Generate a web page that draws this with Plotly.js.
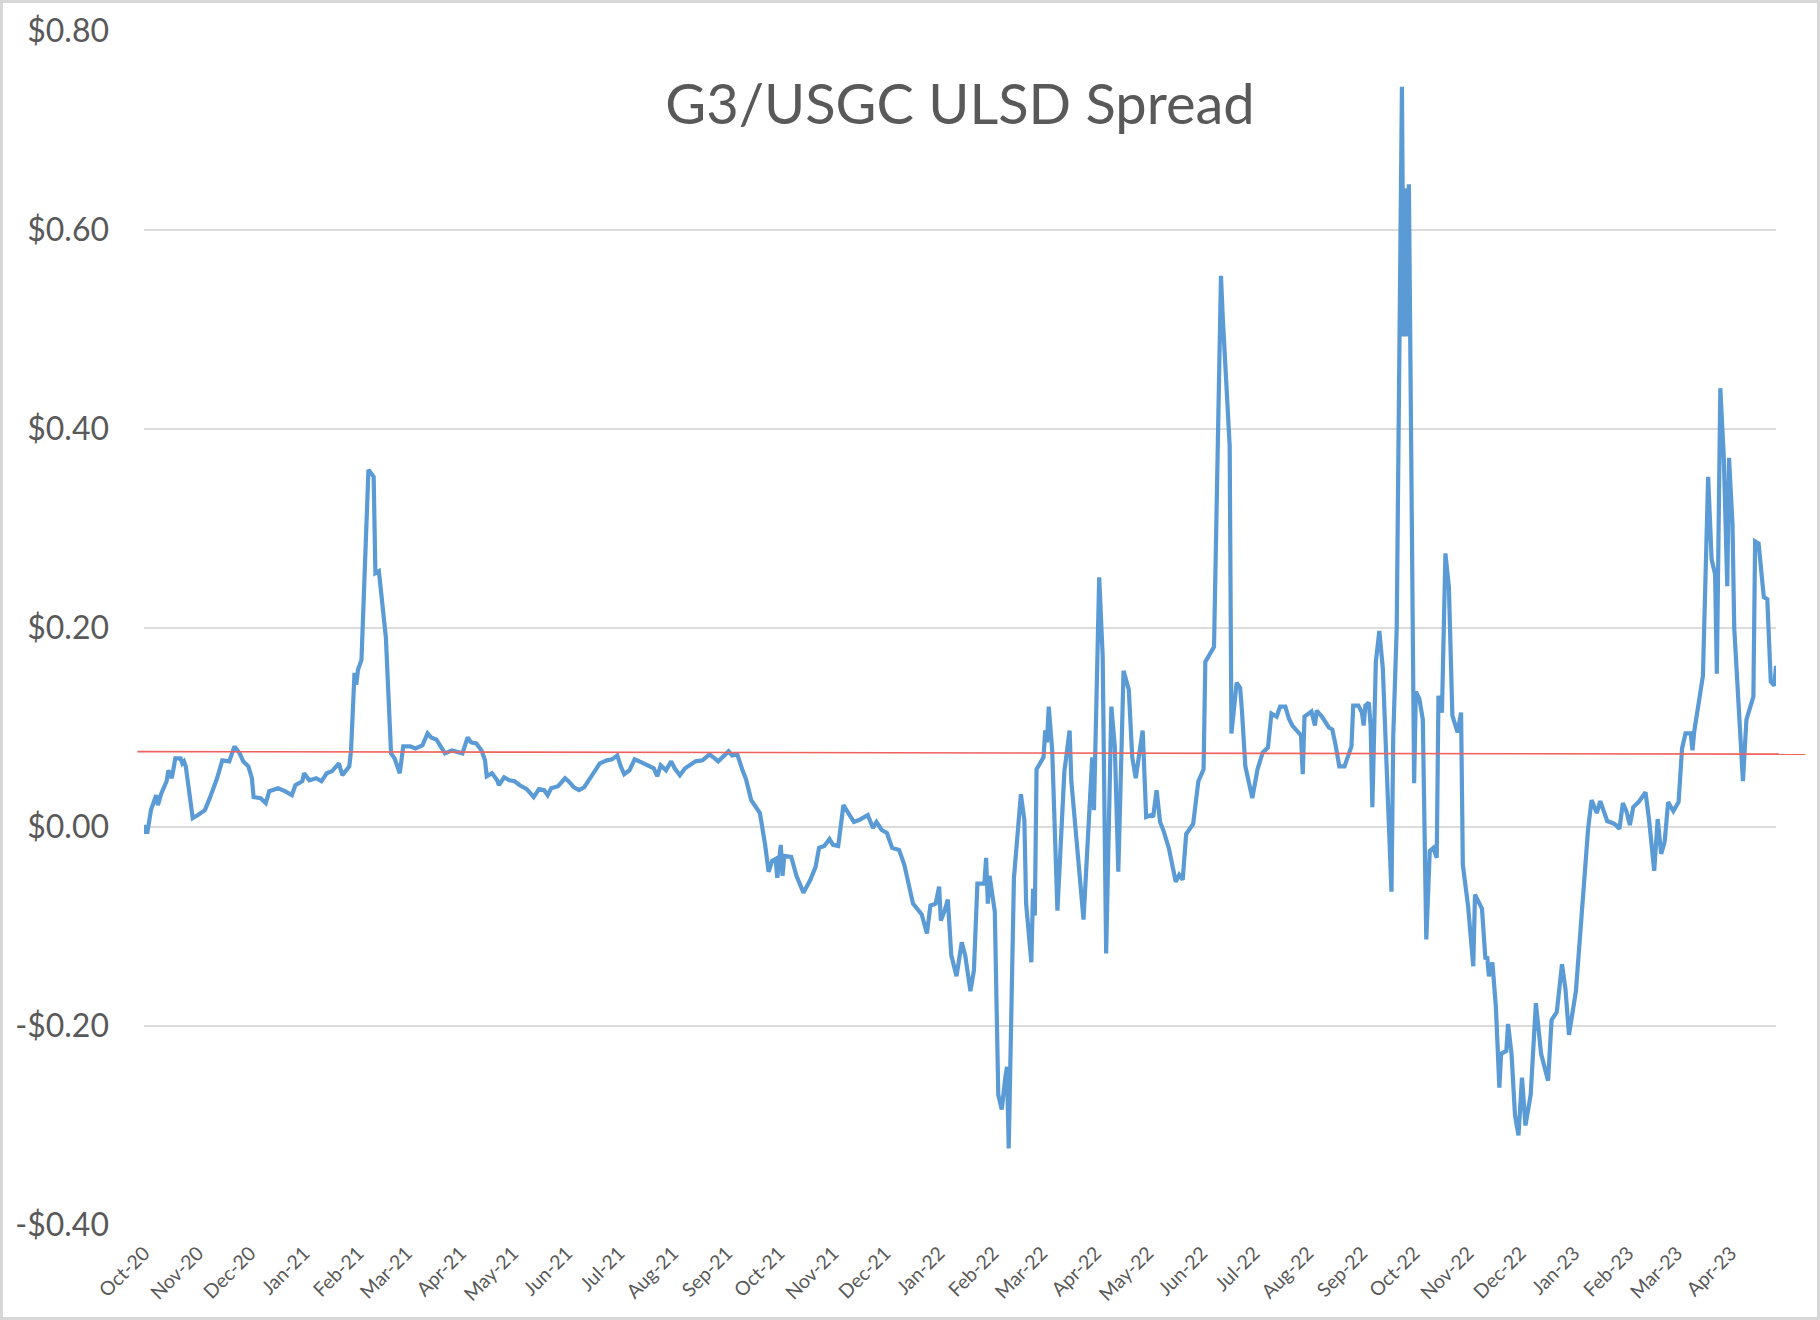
<!DOCTYPE html>
<html>
<head>
<meta charset="utf-8">
<script src="https://cdn.plot.ly/plotly-3.0.1.min.js"></script>
<style>
  html, body { margin: 0; padding: 0; background: #ffffff; }
  #wrap { position: relative; width: 1820px; height: 1320px; }
  #chart { position: absolute; left: 0; top: 0; width: 1820px; height: 1320px; }
  #frame { position: absolute; left: 0; top: 0; width: 1820px; height: 1320px; box-sizing: border-box; border: 3px solid #d6d6d6; pointer-events: none; }
</style>
</head>
<body>
<div id="wrap"><div id="chart"></div><div id="frame"></div></div>
<script>
// ---- Data ----
const chartTitle = 'G3/USGC ULSD Spread';

const dates = [
'2020-10-01','2020-10-02','2020-10-03','2020-10-05','2020-10-08','2020-10-09','2020-10-11','2020-10-14','2020-10-15','2020-10-17',
'2020-10-19','2020-10-22','2020-10-23','2020-10-24','2020-10-25','2020-10-29','2020-11-01','2020-11-05','2020-11-08','2020-11-12',
'2020-11-15','2020-11-19','2020-11-22','2020-11-25','2020-11-27','2020-11-30','2020-12-02','2020-12-03','2020-12-07','2020-12-10',
'2020-12-12','2020-12-17','2020-12-21','2020-12-25','2020-12-27','2020-12-31','2021-01-01','2021-01-04','2021-01-08','2021-01-11',
'2021-01-14','2021-01-17','2021-01-21','2021-01-23','2021-01-27','2021-01-28','2021-01-30','2021-01-31','2021-02-01','2021-02-03',
'2021-02-07','2021-02-10','2021-02-11','2021-02-13','2021-02-17','2021-02-20','2021-02-22','2021-02-25','2021-02-27','2021-03-03',
'2021-03-06','2021-03-10','2021-03-13','2021-03-15','2021-03-18','2021-03-23','2021-03-27','2021-03-30','2021-04-02','2021-04-05',
'2021-04-07','2021-04-10','2021-04-13','2021-04-15','2021-04-16','2021-04-19','2021-04-22','2021-04-23','2021-04-26','2021-04-29',
'2021-05-02','2021-05-05','2021-05-09','2021-05-13','2021-05-16','2021-05-19','2021-05-21','2021-05-23','2021-05-27','2021-05-31',
'2021-06-02','2021-06-05','2021-06-08','2021-06-11','2021-06-14','2021-06-17','2021-06-20','2021-06-24','2021-06-27','2021-06-30',
'2021-07-02','2021-07-04','2021-07-07','2021-07-10','2021-07-14','2021-07-18','2021-07-21','2021-07-23','2021-07-25','2021-07-28',
'2021-07-31','2021-08-02','2021-08-05','2021-08-08','2021-08-11','2021-08-14','2021-08-18','2021-08-22','2021-08-25','2021-08-27',
'2021-08-30','2021-09-02','2021-09-04','2021-09-07','2021-09-10','2021-09-12','2021-09-15','2021-09-18','2021-09-20','2021-09-23',
'2021-09-25','2021-09-27','2021-09-29','2021-09-30','2021-10-01','2021-10-02','2021-10-03','2021-10-04','2021-10-08','2021-10-11',
'2021-10-15','2021-10-19','2021-10-22','2021-10-24','2021-10-27','2021-10-30','2021-11-01','2021-11-04','2021-11-07','2021-11-10',
'2021-11-13','2021-11-16','2021-11-21','2021-11-24','2021-11-26','2021-11-29','2021-12-02','2021-12-05','2021-12-09','2021-12-12',
'2021-12-17','2021-12-22','2021-12-25','2021-12-27','2021-12-30','2022-01-01','2022-01-02','2022-01-04','2022-01-06','2022-01-08',
'2022-01-11','2022-01-14','2022-01-16','2022-01-19','2022-01-21','2022-01-23','2022-01-27','2022-01-28','2022-01-29','2022-01-30',
'2022-02-02','2022-02-04','2022-02-06','2022-02-08','2022-02-09','2022-02-10','2022-02-13','2022-02-17','2022-02-19','2022-02-20',
'2022-02-23','2022-02-24','2022-02-25','2022-02-26','2022-03-02','2022-03-03','2022-03-04','2022-03-05','2022-03-07','2022-03-10',
'2022-03-12','2022-03-14','2022-03-17','2022-03-18','2022-03-25','2022-03-28','2022-03-30','2022-03-31','2022-04-03','2022-04-05',
'2022-04-07','2022-04-10','2022-04-12','2022-04-14','2022-04-17','2022-04-20','2022-04-22','2022-04-24','2022-04-28','2022-04-30',
'2022-05-03','2022-05-04','2022-05-06','2022-05-08','2022-05-10','2022-05-13','2022-05-15','2022-05-17','2022-05-19','2022-05-21',
'2022-05-23','2022-05-27','2022-05-30','2022-06-02','2022-06-03','2022-06-08','2022-06-12','2022-06-13','2022-06-17','2022-06-18',
'2022-06-21','2022-06-23','2022-06-24','2022-06-26','2022-06-30','2022-07-03','2022-07-06','2022-07-09','2022-07-11','2022-07-14',
'2022-07-16','2022-07-19','2022-07-21','2022-07-23','2022-07-27','2022-07-28','2022-07-29','2022-07-30','2022-08-03','2022-08-05',
'2022-08-06','2022-08-09','2022-08-13','2022-08-15','2022-08-17','2022-08-19','2022-08-22','2022-08-24','2022-08-26','2022-08-27',
'2022-08-30','2022-09-01','2022-09-02','2022-09-03','2022-09-05','2022-09-06','2022-09-07','2022-09-09','2022-09-11','2022-09-13',
'2022-09-16','2022-09-18','2022-09-19','2022-09-21','2022-09-24','2022-09-25','2022-09-26','2022-09-27','2022-09-28','2022-10-01',
'2022-10-02','2022-10-04','2022-10-06','2022-10-08','2022-10-10','2022-10-12','2022-10-14','2022-10-15','2022-10-17','2022-10-19',
'2022-10-21','2022-10-23','2022-10-26','2022-10-28','2022-10-29','2022-11-01','2022-11-04','2022-11-05','2022-11-09','2022-11-11',
'2022-11-12','2022-11-13','2022-11-15','2022-11-17','2022-11-19','2022-11-20','2022-11-23','2022-11-24','2022-11-26','2022-11-28',
'2022-11-30','2022-12-02','2022-12-04','2022-12-07','2022-12-10','2022-12-13','2022-12-17','2022-12-19','2022-12-22','2022-12-25',
'2022-12-27','2022-12-29','2023-01-02','2023-01-05','2023-01-07','2023-01-09','2023-01-11','2023-01-14','2023-01-16','2023-01-20',
'2023-01-23','2023-01-25','2023-01-27','2023-01-29','2023-01-31','2023-02-02','2023-02-04','2023-02-07','2023-02-11','2023-02-13',
'2023-02-16','2023-02-18','2023-02-20','2023-02-22','2023-02-24','2023-02-27','2023-03-02','2023-03-04','2023-03-06','2023-03-09',
'2023-03-10','2023-03-11','2023-03-16','2023-03-19','2023-03-21','2023-03-23','2023-03-24','2023-03-26','2023-03-28','2023-03-30',
'2023-03-31','2023-04-02','2023-04-03','2023-04-08','2023-04-10','2023-04-14','2023-04-15','2023-04-17','2023-04-20','2023-04-22',
'2023-04-24','2023-04-26','2023-04-27'
];

const spread = [
0.002,-0.005,-0.005,0.017,0.032,0.022,0.034,0.046,0.057,0.049,
0.069,0.069,0.064,0.066,0.061,0.009,0.012,0.017,0.030,0.049,
0.067,0.066,0.081,0.074,0.066,0.061,0.049,0.030,0.029,0.024,
0.036,0.039,0.036,0.032,0.042,0.046,0.054,0.047,0.049,0.046,
0.054,0.056,0.064,0.052,0.061,0.077,0.155,0.143,0.158,0.168,
0.359,0.352,0.255,0.257,0.191,0.074,0.069,0.054,0.081,0.081,
0.079,0.082,0.094,0.090,0.088,0.074,0.077,0.076,0.074,0.090,
0.085,0.084,0.077,0.067,0.051,0.054,0.047,0.042,0.050,0.047,
0.046,0.042,0.038,0.030,0.038,0.037,0.032,0.039,0.041,0.049,
0.046,0.040,0.037,0.040,0.049,0.056,0.064,0.067,0.068,0.072,
0.061,0.053,0.057,0.068,0.065,0.061,0.059,0.051,0.062,0.057,
0.066,0.059,0.052,0.059,0.063,0.066,0.067,0.073,0.069,0.066,
0.071,0.076,0.072,0.073,0.057,0.048,0.027,0.020,0.014,-0.018,
-0.045,-0.034,-0.032,-0.051,-0.029,-0.018,-0.049,-0.029,-0.030,-0.049,
-0.066,-0.053,-0.040,-0.021,-0.019,-0.012,-0.018,-0.019,0.022,0.014,
0.005,0.007,0.012,-0.001,0.005,-0.003,-0.006,-0.021,-0.023,-0.038,
-0.077,-0.088,-0.107,-0.079,-0.077,-0.060,-0.094,-0.085,-0.073,-0.129,
-0.150,-0.116,-0.129,-0.165,-0.144,-0.057,-0.057,-0.031,-0.077,-0.049,
-0.085,-0.269,-0.284,-0.252,-0.241,-0.323,-0.051,0.033,0.007,-0.077,
-0.136,-0.062,-0.089,0.058,0.070,0.097,0.085,0.121,0.077,-0.084,
-0.021,0.056,0.097,0.046,-0.093,0.017,0.070,0.017,0.251,0.172,
-0.127,0.121,0.080,-0.045,0.157,0.138,0.070,0.049,0.097,0.010,
0.012,0.010,0.037,0.005,-0.004,-0.021,-0.040,-0.055,-0.048,-0.053,
-0.007,0.003,0.046,0.058,0.166,0.181,0.554,0.513,0.383,0.094,
0.145,0.140,0.118,0.061,0.029,0.058,0.075,0.080,0.114,0.111,
0.121,0.121,0.109,0.102,0.094,0.092,0.053,0.111,0.116,0.102,
0.117,0.111,0.100,0.098,0.081,0.061,0.061,0.071,0.081,0.122,
0.122,0.115,0.102,0.122,0.125,0.102,0.020,0.166,0.197,0.160,
0.037,-0.065,0.091,0.200,0.744,0.493,0.642,0.493,0.646,0.044,
0.136,0.129,0.108,-0.113,-0.024,-0.021,-0.031,0.132,0.115,0.275,
0.241,0.112,0.095,0.115,-0.038,-0.079,-0.140,-0.068,-0.082,-0.133,
-0.130,-0.150,-0.136,-0.181,-0.262,-0.228,-0.225,-0.198,-0.228,-0.290,
-0.310,-0.252,-0.300,-0.269,-0.177,-0.228,-0.255,-0.194,-0.186,-0.138,
-0.163,-0.209,-0.165,-0.098,-0.050,-0.002,0.027,0.014,0.026,0.006,
0.004,0.002,-0.002,0.024,0.016,0.002,0.020,0.025,0.035,0.008,
-0.044,0.008,-0.027,-0.015,0.025,0.016,0.025,0.079,0.094,0.094,
0.077,0.096,0.152,0.352,0.269,0.254,0.154,0.441,0.371,0.242,
0.371,0.304,0.200,0.046,0.108,0.131,0.287,0.285,0.231,0.229,
0.146,0.142,0.162
];

// red reference line (start / end level)
const refLineLevel = [0.0758, 0.0732];

// axis ticks
const monthTicks = [
'2020-10-01','2020-11-01','2020-12-01','2021-01-01','2021-02-01','2021-03-01','2021-04-01','2021-05-01',
'2021-06-01','2021-07-01','2021-08-01','2021-09-01','2021-10-01','2021-11-01','2021-12-01','2022-01-01',
'2022-02-01','2022-03-01','2022-04-01','2022-05-01','2022-06-01','2022-07-01','2022-08-01','2022-09-01',
'2022-10-01','2022-11-01','2022-12-01','2023-01-01','2023-02-01','2023-03-01','2023-04-01'
];
const monthLabels = [
'Oct-20','Nov-20','Dec-20','Jan-21','Feb-21','Mar-21','Apr-21','May-21',
'Jun-21','Jul-21','Aug-21','Sep-21','Oct-21','Nov-21','Dec-21','Jan-22',
'Feb-22','Mar-22','Apr-22','May-22','Jun-22','Jul-22','Aug-22','Sep-22',
'Oct-22','Nov-22','Dec-22','Jan-23','Feb-23','Mar-23','Apr-23'
];
const yTickVals = [-0.4, -0.2, 0, 0.2, 0.4, 0.6, 0.8];
const yTickText = ['-$0.40', '-$0.20', '$0.00', '$0.20', '$0.40', '$0.60', '$0.80'];
const xRange = ['2020-10-01', '2023-04-27'];

// ---- Chart ----
const textGray = '#595959';
const traces = [{
  type: 'scatter',
  mode: 'lines',
  x: dates,
  y: spread,
  line: { color: '#5b9bd5', width: 4.2, shape: 'linear' },
  hoverinfo: 'x+y'
}];

const layout = {
  width: 1820,
  height: 1320,
  margin: { l: 144, r: 44, t: 31, b: 95 },
  paper_bgcolor: '#ffffff',
  plot_bgcolor: '#ffffff',
  showlegend: false,
  font: { family: 'Lato, "Open Sans", sans-serif', color: textGray },
  title: {
    text: chartTitle,
    font: { family: 'Lato, "Open Sans", sans-serif', size: 56, color: textGray },
    x: 0.5, xref: 'paper', xanchor: 'center',
    y: 0.921, yref: 'container', yanchor: 'middle'
  },
  xaxis: {
    type: 'date',
    range: xRange,
    tickmode: 'array',
    tickvals: monthTicks,
    ticktext: monthLabels,
    tickangle: -45,
    tickfont: { size: 19.5, color: textGray },
    showgrid: false,
    zeroline: false,
    showline: false,
    ticks: '',
    ticklabelstandoff: 12
  },
  yaxis: {
    range: [-0.4, 0.8],
    tickmode: 'array',
    tickvals: yTickVals,
    ticktext: yTickText,
    tickfont: { size: 32, color: textGray },
    showgrid: true,
    gridcolor: '#dcdcdc',
    gridwidth: 1.5,
    zeroline: false,
    showline: false,
    ticks: '',
    ticklabelstandoff: 34
  },
  shapes: [{
    type: 'line',
    xref: 'paper', yref: 'y',
    x0: -0.004, x1: 1.018,
    y0: refLineLevel[0], y1: refLineLevel[1],
    line: { color: '#f0625f', width: 1.6 },
    layer: 'above'
  }]
};

Plotly.newPlot('chart', traces, layout, { staticPlot: true, displayModeBar: false });
</script>
</body>
</html>
